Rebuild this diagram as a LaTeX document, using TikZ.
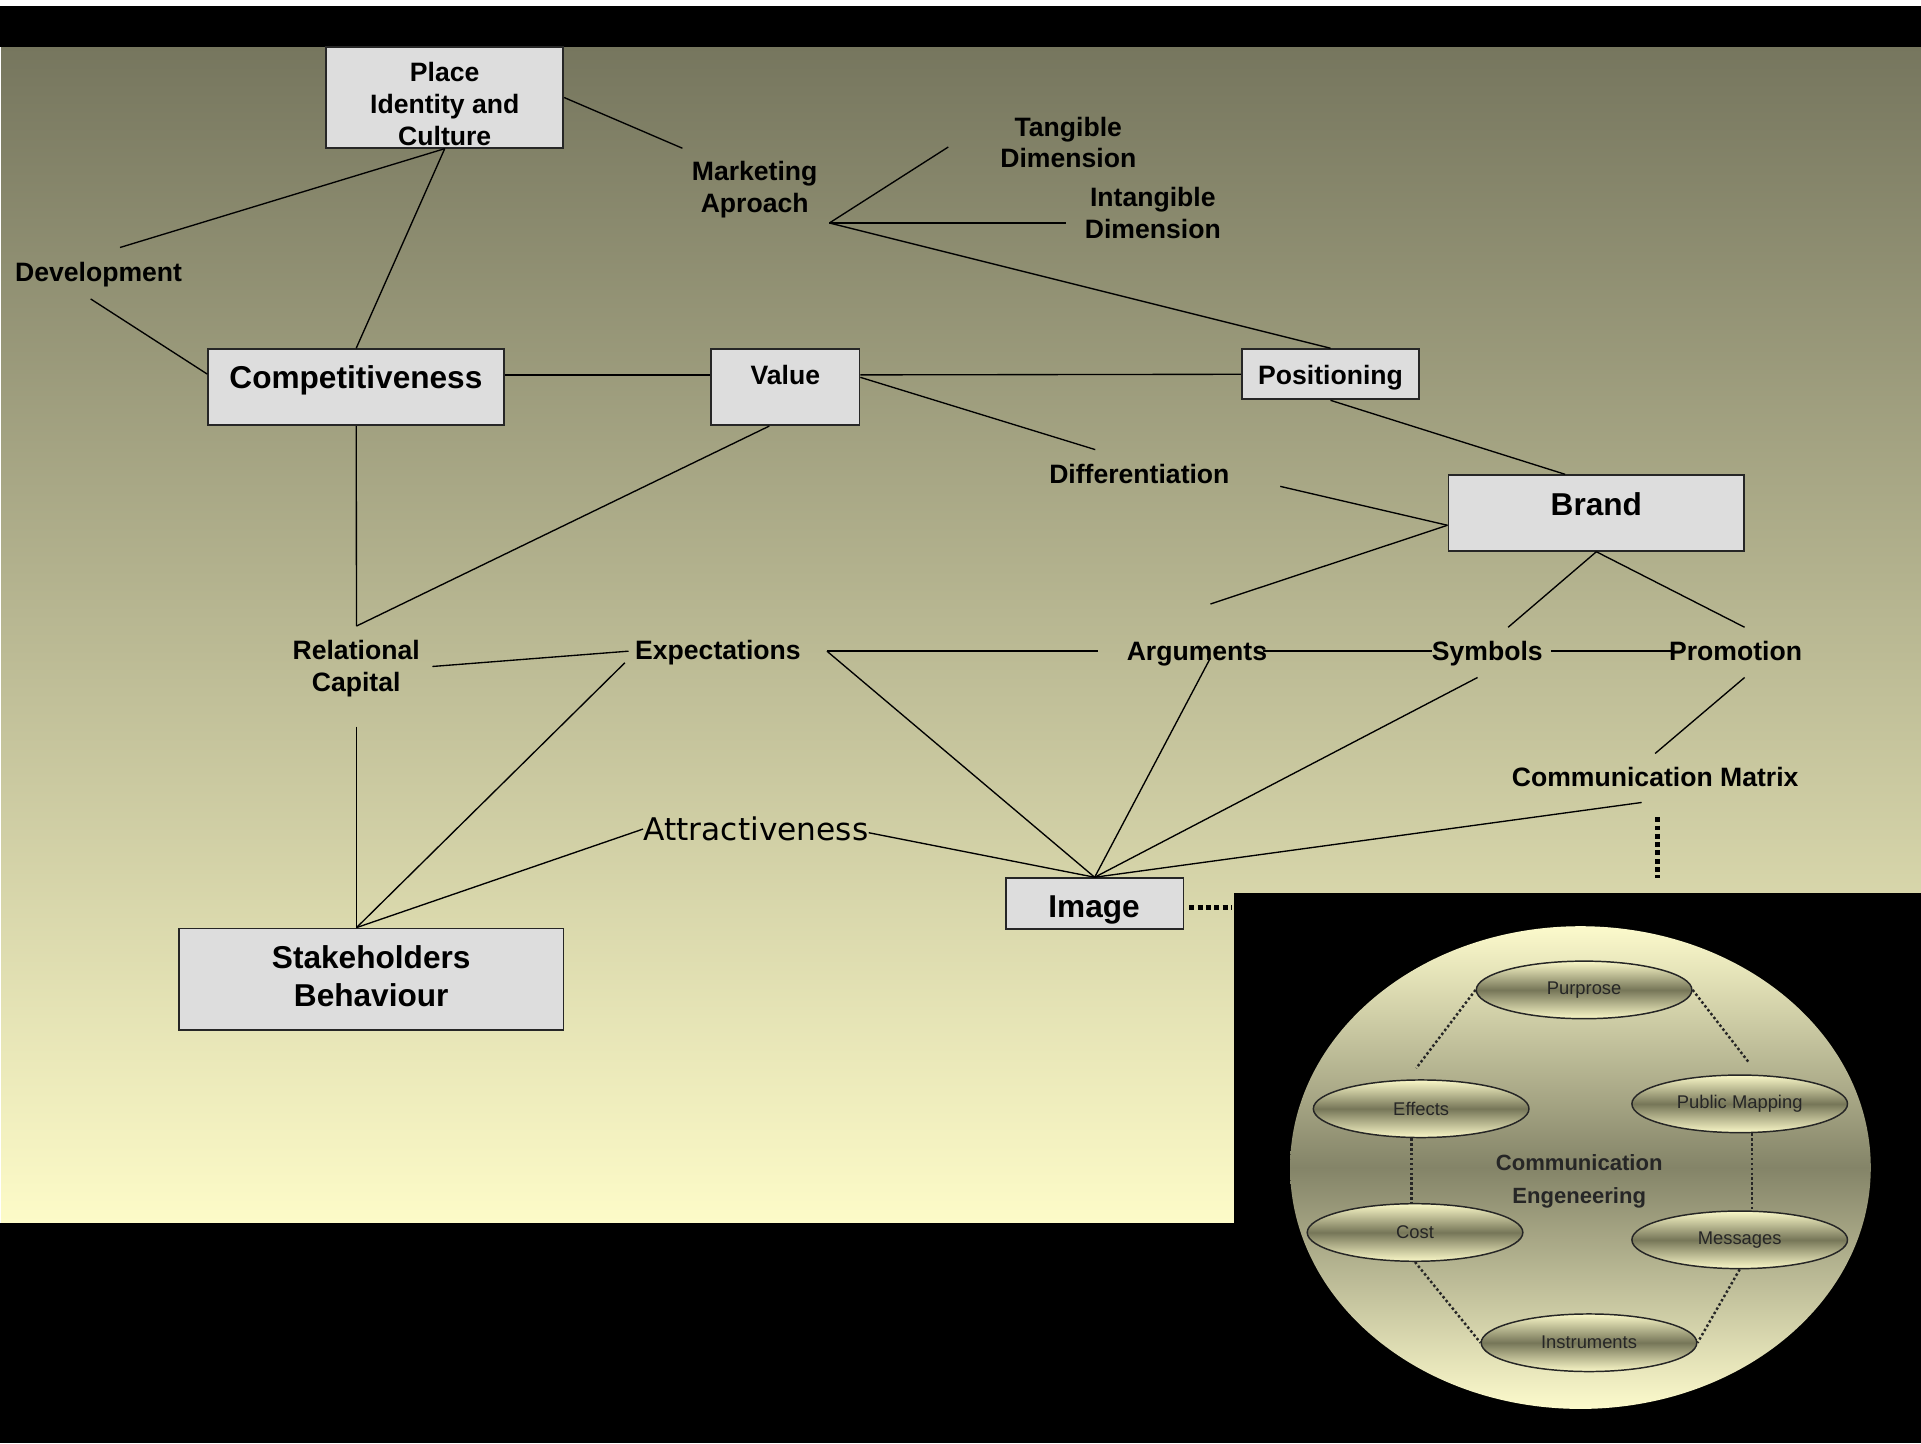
\documentclass[tikz,border=0pt]{standalone}
\usepackage{fontspec}
\setmainfont{Liberation Sans}
\newfontfamily\attrfont{DejaVu Sans}
\usetikzlibrary{shapes.geometric}

\definecolor{boxfill}{RGB}{221,221,221}
\definecolor{bgtop}{RGB}{118,118,94}
\definecolor{bgbot}{RGB}{253,251,200}
\definecolor{ovlight}{RGB}{250,248,200}
\definecolor{ovdark}{RGB}{118,118,88}
\definecolor{globelight}{RGB}{252,250,204}
\definecolor{globedark}{RGB}{132,132,104}

\begin{document}
\begin{tikzpicture}[x=0.5pt, y=-0.5pt,
  lbl/.style={font=\bfseries\fontsize{10.85}{13}\selectfont, align=center, inner sep=0pt},
  bigl/.style={font=\bfseries\fontsize{12.9}{15.5}\selectfont, align=center, inner sep=0pt},
  box/.style={draw=black!85, line width=0.75pt, fill=boxfill, inner sep=0pt},
  link/.style={line width=0.55pt, draw=black},
  thickdots/.style={line width=2pt, dash pattern=on 2pt off 1.4pt},
  oval/.style={ellipse, draw=black!85, line width=0.6pt, minimum width=88pt,
    minimum height=23.5pt, inner sep=0pt, top color=ovlight, bottom color=ovlight,
    middle color=ovdark, font=\fontsize{7.5}{9}\selectfont, text=black!85},
  ovaldots/.style={line width=1pt, dash pattern=on 1pt off 1pt, draw=black!85},
]
\useasboundingbox (0,0) rectangle (1568,1178);

% background: gradient panel framed by black bands
\fill[white] (0,0) rectangle (1568,1178);
\shade[top color=bgtop, bottom color=bgbot] (1,38) rectangle (1568,998);
\fill[black] (0,5) rectangle (1568,38);
\fill[black] (0,998) rectangle (1568,1178);
\fill[black] (1007,729) rectangle (1568,1178);

% communication engineering globe
\node[ellipse, minimum width=237pt, minimum height=197pt, inner sep=0pt,
  top color=globelight, bottom color=globelight, middle color=globedark] (globe) at (1290,953) {};
\node[font=\bfseries\fontsize{9}{13.5}\selectfont, align=center, text=black!85] (ceT) at (1289,964) {Communication\\Engeneering};

\node[oval] (purp) at (1293,808) {Purprose};
\node[oval] (eff) at (1160,905) {Effects};
\node[oval] (pub) at (1420,901) {Public Mapping};
\node[oval] (cost) at (1155,1006) {Cost};
\node[oval] (msg) at (1420,1012) {Messages};
\node[oval] (inst) at (1297,1096) {Instruments};

\draw[ovaldots] (purp.west) -- ([shift={(-2pt,4.5pt)}]eff.north);
\draw[ovaldots] (purp.east) -- ([shift={(4pt,4.5pt)}]pub.north);
\draw[ovaldots] ([xshift=-4pt]eff.south) -- ([xshift=-1.5pt]cost.north);
\draw[ovaldots] ([xshift=5pt]pub.south) -- ([xshift=5pt]msg.north);
\draw[ovaldots] (cost.south) -- (inst.west);
\draw[ovaldots] (msg.south) -- (inst.east);

% boxed concepts
\node[box, minimum width=96.75pt, minimum height=41pt] (place) at (363,79.6) {};
\node[box, minimum width=120.75pt, minimum height=31pt] (comp) at (290.75,316) {};
\node[box, minimum width=60.75pt, minimum height=31pt] (val) at (640.75,316) {};
\node[box, minimum width=72.5pt, minimum height=20.5pt] (pos) at (1086,305.5) {};
\node[box, minimum width=120.75pt, minimum height=30.85pt] (brand) at (1303,418.75) {};
\node[box, minimum width=72.5pt, minimum height=20.8pt] (img) at (893.5,737.6) {};
\node[box, minimum width=157pt, minimum height=41.5pt] (stake) at (303,799.4) {};

% free labels
\node[lbl] (mkt) at (616,155) {Marketing\\Aproach};
\node[lbl] (tang) at (872,116.3) {Tangible\\Dimension};
\node[lbl] (intang) at (941,173.7) {Intangible\\Dimension};
\node[lbl] (dev) at (80.5,224) {Development};
\node[lbl] (diff) at (930,387) {Differentiation};
\node[lbl] (relcap) at (290.7,545.5) {Relational\\Capital};
\node[lbl] (expect) at (586,532.5) {Expectations};
\node[lbl] (args) at (977,533.7) {Arguments};
\node[lbl] (syms) at (1214,533.5) {Symbols};
\node[lbl] (promo) at (1416.6,531.5) {Promotion};
\node[lbl] (cmx) at (1351,634) {Communication Matrix};
\node[font=\attrfont\fontsize{12.75}{15}\selectfont, inner sep=0pt] (attr) at (617,676.7) {Attractiveness};

% loose connector ends beside the labels
\coordinate (mktIn) at (557,121);
\coordinate (devUp) at (98,202);
\coordinate (devDn) at (74,244);
\coordinate (mktHub) at (677,182);
\coordinate (tangEnd) at (774,120);
\coordinate (intEnd) at (870,182);
\coordinate (diffIn) at (894,367);
\coordinate (diffOut) at (1045,397);
\coordinate (rcUp) at (291,511);
\coordinate (rcRight) at (353,544);
\coordinate (rcDn) at (291,593);
\coordinate (expLeft) at (513,531.5);
\coordinate (expLow) at (510,541);
\coordinate (expRight) at (675,531.5);
\coordinate (argLeft) at (896,531.5);
\coordinate (argUp) at (988,493);
\coordinate (argRight) at (1031,531.5);
\coordinate (argLow) at (988,537);
\coordinate (symLeft) at (1169,531.5);
\coordinate (symRight) at (1266,531.5);
\coordinate (symUp) at (1231,512);
\coordinate (symLow) at (1206,553);
\coordinate (proLeft) at (1366,531.5);
\coordinate (proUp) at (1424,512);
\coordinate (proLow) at (1424,553);
\coordinate (cmUp) at (1351,615);
\coordinate (cmLow) at (1340,655);
\coordinate (dotTop) at (1353,667);
\coordinate (dotBot) at (1353,717);
\coordinate (imgDotEnd) at (1006,741);

% connectors
\draw[link] (place.east) -- (mktIn);
\draw[link] (place.south) -- (devUp);
\draw[link] (place.south) -- (comp.north);
\draw[link] (devDn) -- ([yshift=5.3pt]comp.west);
\draw[link] ([yshift=5pt]comp.east) -- ([yshift=5pt]val.west);
\draw[link] ([yshift=5pt]val.east) -- (pos.west);
\draw[link] ([yshift=4pt]val.east) -- (diffIn);
\draw[link] ([xshift=-6.4pt]val.south) -- (rcUp);
\draw[link] (comp.south) -- (rcUp);
\draw[link] (mktHub) -- (tangEnd);
\draw[link] (mktHub) -- (intEnd);
\draw[link] (mktHub) -- (pos.north);
\draw[link] (pos.south) -- ([xshift=-12.75pt]brand.north);
\draw[link] (diffOut) -- ([yshift=-5pt]brand.west);
\draw[link] ([yshift=-5pt]brand.west) -- (argUp);
\draw[link] (brand.south) -- (symUp);
\draw[link] (brand.south) -- (proUp);
\draw[link] (rcRight) -- (expLeft);
\draw[link] (expRight) -- (argLeft);
\draw[link] (argRight) -- (symLeft);
\draw[link] (symRight) -- (proLeft);
\draw[link] (proLow) -- (cmUp);
\draw[link] (rcDn) -- ([xshift=-6pt]stake.north);
\draw[link] (expLow) -- ([xshift=-6pt]stake.north);
\draw[link] (attr.west) -- ([xshift=-6pt]stake.north);
\draw[link] ([yshift=-1.5pt]attr.east) -- (img.north);
\draw[link] (expRight) -- (img.north);
\draw[link] (argLow) -- (img.north);
\draw[link] (symLow) -- (img.north);
\draw[link] (cmLow) -- (img.north);
\draw[thickdots] (dotTop) -- (dotBot);
\draw[thickdots, shorten <=2pt] ([yshift=-1.7pt]img.east) -- (imgDotEnd);

% box captions
\node[lbl] (placeT) at (363,84.6) {Place\\Identity and\\Culture};
\node[bigl] (compT) at (290.5,310.7) {Competitiveness};
\node[lbl] (valT) at (641,306) {Value};
\node[lbl] (posT) at (1086,308) {Positioning};
\node[bigl] (brandT) at (1303,411.5) {Brand};
\node[bigl] (imgT) at (893,742.5) {Image};
\node[bigl] (stakeT) at (303,796.5) {Stakeholders\\Behaviour};
\end{tikzpicture}
\end{document}
